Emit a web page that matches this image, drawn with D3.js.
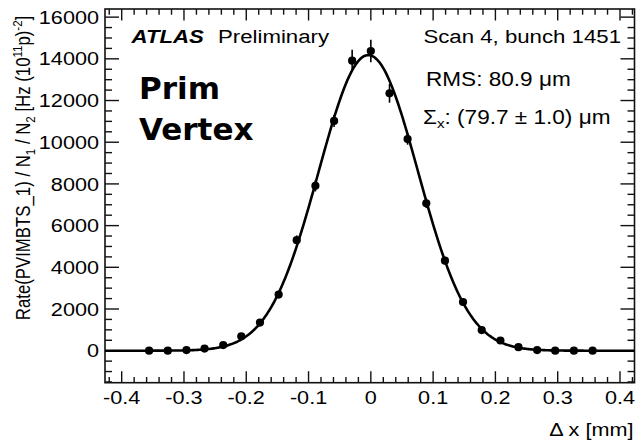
<!DOCTYPE html>
<html>
<head>
<meta charset="utf-8">
<script src="https://cdn.jsdelivr.net/npm/d3@7"></script>
<style>
  html, body { margin: 0; padding: 0; background: #fff; }
  svg { display: block; }
  text { font-family: "Liberation Sans", Arial, Helvetica, sans-serif; fill: #000; }
  text.method { font-family: "DejaVu Sans", sans-serif; font-weight: bold; }
</style>
</head>
<body>
<svg id="chart" width="639" height="441"></svg>
<script>
// Beam-separation scan points: separation (mm), normalised rate and its uncertainty
const separation = [-0.356, -0.326, -0.296, -0.267, -0.237, -0.208, -0.178, -0.148, -0.119, -0.089, -0.059, -0.030,
                     0.000, 0.030, 0.059, 0.089, 0.119, 0.148, 0.178, 0.208, 0.237, 0.267, 0.296, 0.326, 0.356];
const rate = [0, 0, 30, 100, 270, 690, 1350, 2690, 5300, 7910, 11020, 13910,
              14370, 12345, 10150, 7070, 4320, 2335, 990, 490, 170, 30, 0, 0, 0];
const rateErr = [20, 20, 30, 40, 60, 90, 120, 170, 230, 270, 290, 520,
                 540, 450, 270, 230, 190, 140, 90, 60, 40, 30, 20, 20, 20];

// Gaussian fit parameters (width from the fit result quoted on the plot)
const fitSigma = 0.0797;   // mm  (79.7 um)
const fitMean = -0.004;    // mm
const fitPeak = 14180;

// Axis ticks
const xMajorTicks = [-0.4, -0.3, -0.2, -0.1, 0, 0.1, 0.2, 0.3, 0.4];
const xMinorTicks = d3.range(-21, 22).map(i => i * 0.02);
const yMajorTicks = [0, 2000, 4000, 6000, 8000, 10000, 12000, 14000, 16000];
const yMinorTicks = d3.range(-3, 33).map(i => i * 500);

// Text
const xTitle = "\u0394 x [mm]";
const atlasLabel = "ATLAS";
const atlasStatus = "Preliminary";
const scanLabel = "Scan 4, bunch 1451";
const rmsLabel = "RMS: 80.9 \u03bcm";
const sigmaLabel = ["\u03a3", "x", ": (79.7 \u00b1 1.0) \u03bcm"];
const methodLabel = ["Prim", "Vertex"];

const svg = d3.select("#chart");
const frame = { left: 105, top: 9, right: 634.5, bottom: 382.7 };
const stretch = 1.17;

const x = d3.scaleLinear().domain([-0.4268, 0.4233]).range([frame.left, frame.right]);
const y = d3.scaleLinear().domain([-1535, 16390]).range([frame.bottom, frame.top]);

const ink = "#111";

// Ticks on all four sides, pointing into the frame
const tickG = svg.append("g").attr("stroke", ink).attr("stroke-width", 1.4);
function yTick(v, len) {
  tickG.append("line").attr("x1", frame.left).attr("x2", frame.left + len)
    .attr("y1", y(v)).attr("y2", y(v));
  tickG.append("line").attr("x1", frame.right).attr("x2", frame.right - len)
    .attr("y1", y(v)).attr("y2", y(v));
}
function xTick(v, len) {
  tickG.append("line").attr("x1", x(v)).attr("x2", x(v))
    .attr("y1", frame.bottom).attr("y2", frame.bottom - len);
  tickG.append("line").attr("x1", x(v)).attr("x2", x(v))
    .attr("y1", frame.top).attr("y2", frame.top + len);
}
yMinorTicks.filter(v => v % 2000 !== 0 && y(v) > frame.top && y(v) < frame.bottom).forEach(v => yTick(v, 7));
yMajorTicks.forEach(v => yTick(v, 14));
xMinorTicks.filter(v => Math.abs(v * 10 - Math.round(v * 10)) > 1e-6 && x(v) > frame.left && x(v) < frame.right).forEach(v => xTick(v, 5.7));
xMajorTicks.forEach(v => xTick(v, 11.5));

// Frame
svg.append("rect")
  .attr("x", frame.left).attr("y", frame.top)
  .attr("width", frame.right - frame.left).attr("height", frame.bottom - frame.top)
  .attr("fill", "none").attr("stroke", ink).attr("stroke-width", 1.6);

// Tick labels
const fmt = v => v === 0 ? "0" : d3.format(".1f")(v).replace("\u2212", "-");
svg.append("g").selectAll("text").data(yMajorTicks).join("text")
  .attr("transform", d => `translate(${frame.left - 6},${y(d) + 6.6}) scale(${stretch},1)`)
  .attr("text-anchor", "end").attr("font-size", 18.5)
  .text(d => String(d));
svg.append("g").selectAll("text").data(xMajorTicks).join("text")
  .attr("transform", d => `translate(${x(d)},${frame.bottom + 21.5}) scale(${stretch},1)`)
  .attr("text-anchor", "middle").attr("font-size", 18.5)
  .text(d => fmt(d));

// Axis titles
svg.append("text")
  .attr("transform", `translate(${frame.right - 1},${frame.bottom + 53}) scale(${stretch},1)`)
  .attr("text-anchor", "end").attr("font-size", 18.5)
  .text(xTitle);

const yTitle = svg.append("text")
  .attr("transform", `translate(30,168) scale(${stretch},1) rotate(-90)`)
  .attr("text-anchor", "middle").attr("font-size", 16.8);
yTitle.append("tspan").text("Rate(PVIMBTS_1) / N");
yTitle.append("tspan").attr("font-size", 11.5).attr("dy", 4).text("1");
yTitle.append("tspan").attr("dy", -4).text(" / N");
yTitle.append("tspan").attr("font-size", 11.5).attr("dy", 4).text("2");
yTitle.append("tspan").attr("dy", -4).text(" [Hz (10");
yTitle.append("tspan").attr("font-size", 11.5).attr("dy", -7).text("11");
yTitle.append("tspan").attr("dy", 7).text("p)");
yTitle.append("tspan").attr("font-size", 11.5).attr("dy", -7).text("-2");
yTitle.append("tspan").attr("dy", 7).text("]");

// Fitted Gaussian
const curvePts = d3.range(0, 401).map(i => {
  const xv = x.domain()[0] + (x.domain()[1] - x.domain()[0]) * i / 400;
  return [xv, fitPeak * Math.exp(-((xv - fitMean) ** 2) / (2 * fitSigma * fitSigma))];
});
svg.append("path")
  .attr("d", d3.line().x(d => x(d[0])).y(d => y(d[1]))(curvePts))
  .attr("fill", "none").attr("stroke", "#000").attr("stroke-width", 2.6);

// Data points with vertical error bars
const pts = separation.map((s, i) => ({ s, r: rate[i], e: rateErr[i] }));
svg.append("g").selectAll("line").data(pts).join("line")
  .attr("x1", d => x(d.s)).attr("x2", d => x(d.s))
  .attr("y1", d => y(d.r - d.e)).attr("y2", d => y(d.r + d.e))
  .attr("stroke", "#000").attr("stroke-width", 1.6);
svg.append("g").selectAll("circle").data(pts).join("circle")
  .attr("cx", d => x(d.s)).attr("cy", d => y(d.r)).attr("r", 4.1)
  .attr("fill", "#000");

// Labels inside the frame
svg.append("text")
  .attr("transform", `translate(131.5,43) scale(${stretch},1)`)
  .attr("font-size", 19).attr("font-weight", "bold").attr("font-style", "italic")
  .text(atlasLabel);
svg.append("text")
  .attr("transform", `translate(218,43) scale(${stretch},1)`)
  .attr("font-size", 19)
  .text(atlasStatus);

svg.append("text")
  .attr("transform", `translate(621,43) scale(${stretch},1)`)
  .attr("text-anchor", "end").attr("font-size", 19)
  .text(scanLabel);

svg.append("text")
  .attr("transform", `translate(426,86) scale(${stretch},1)`)
  .attr("font-size", 19.3)
  .text(rmsLabel);

const sig = svg.append("text")
  .attr("transform", `translate(423,124) scale(${stretch},1)`)
  .attr("font-size", 19.3);
sig.append("tspan").text(sigmaLabel[0]);
sig.append("tspan").attr("font-size", 13).attr("dy", 4).text(sigmaLabel[1]);
sig.append("tspan").attr("dy", -4).text(sigmaLabel[2]);

svg.append("g").selectAll("text").data(methodLabel).join("text")
  .attr("class", "method")
  .attr("x", 139).attr("y", (d, i) => 99 + i * 41)
  .attr("font-size", 31)
  .text(d => d);
</script>
</body>
</html>
